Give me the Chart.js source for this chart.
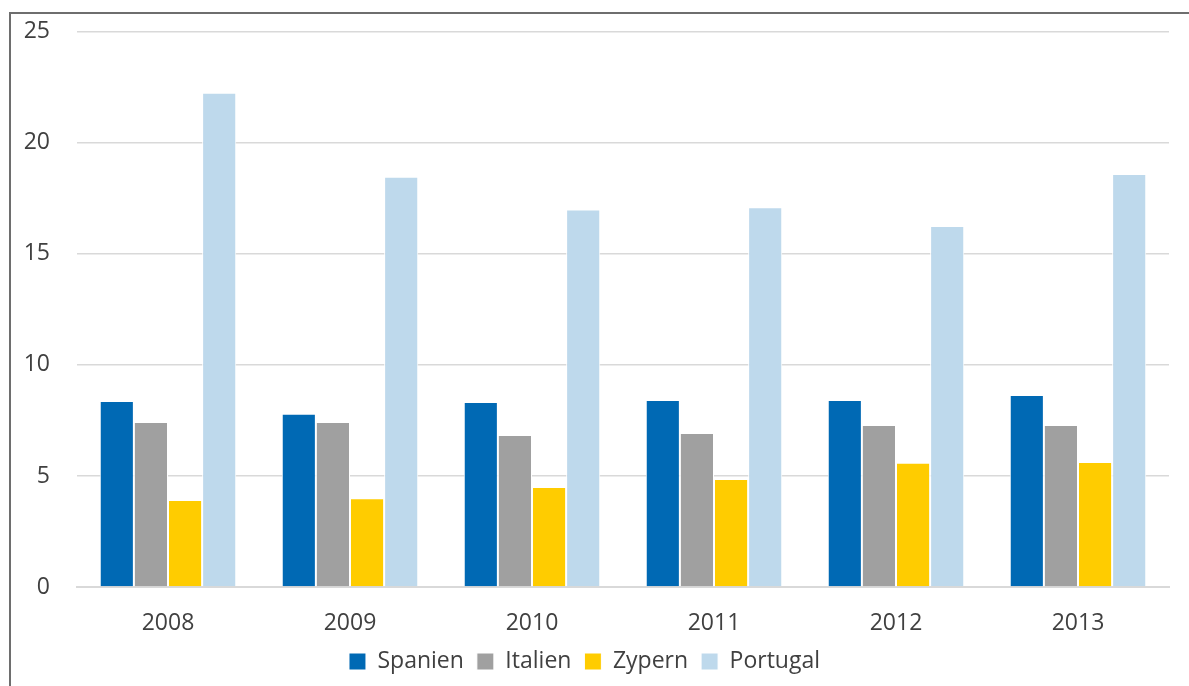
<!DOCTYPE html>
<html>
<head>
<meta charset="utf-8">
<script src="https://cdn.jsdelivr.net/npm/chart.js@4/dist/chart.umd.min.js"></script>
<style>
  body { margin: 0; background: #fff; }
  .wrap { position: relative; width: 1189px; height: 686px; overflow: hidden; }
  .frame { position: absolute; left: 9px; top: 12px; width: 1300px; height: 800px;
           border-left: 2px solid #6e6e6e; border-top: 2px solid #6e6e6e; }
  canvas { position: absolute; left: 0; top: -9px; }
</style>
</head>
<body>
<div class="wrap">
  <div class="frame"></div>
  <canvas id="chart" width="1189" height="695"></canvas>
</div>
<script>
const years = ['2008', '2009', '2010', '2011', '2012', '2013'];
const spanien = [8.38, 7.8, 8.33, 8.42, 8.42, 8.65];
const italien = [7.43, 7.43, 6.85, 6.94, 7.3, 7.3];
const zypern = [3.92, 4.0, 4.5, 4.86, 5.59, 5.63];
const portugal = [22.25, 18.47, 17.0, 17.1, 16.26, 18.6];
const yTicks = [0, 5, 10, 15, 20, 25];

const font = "'Open Sans', 'Noto Sans', sans-serif";

var ctx = document.getElementById('chart').getContext('2d');
var chart = new Chart(ctx, {
    type: 'bar',
    data: {
        labels: years,
        datasets: [
            { label: 'Spanien', data: spanien, backgroundColor: '#0069b4' },
            { label: 'Italien', data: italien, backgroundColor: '#a0a0a0' },
            { label: 'Zypern', data: zypern, backgroundColor: '#ffcc00' },
            { label: 'Portugal', data: portugal, backgroundColor: '#bed9ec' }
        ]
    },
    options: {
        responsive: false,
        animation: false,
        datasets: {
            bar: {
                barPercentage: 1,
                categoryPercentage: 0.75,
                borderColor: '#ffffff',
                borderWidth: 1
            }
        },
        layout: { padding: { top: 15, right: 20, left: 0, bottom: 3 } },
        plugins: {
            tooltip: { enabled: false },
            legend: {
                position: 'bottom',
                labels: {
                    boxWidth: 17,
                    boxHeight: 17,
                    padding: 13,
                    color: '#404040',
                    font: { family: font, size: 23 }
                }
            }
        },
        scales: {
            x: {
                afterFit: function (scale) { scale.height = 50; },
                grid: { display: false, drawTicks: false },
                border: { color: '#d9d9d9', width: 2 },
                ticks: { color: '#404040', padding: 23, font: { family: font, size: 23 } }
            },
            y: {
                min: 0,
                max: 25,
                afterBuildTicks: function (scale) {
                    scale.ticks = yTicks.map(v => ({ value: v }));
                },
                afterFit: function (scale) { scale.width = 77; },
                grid: { color: '#d9d9d9', lineWidth: 1.5, drawTicks: false },
                border: { display: false },
                ticks: { color: '#404040', padding: 27, font: { family: font, size: 23 } }
            }
        }
    }
});
</script>
</body>
</html>
